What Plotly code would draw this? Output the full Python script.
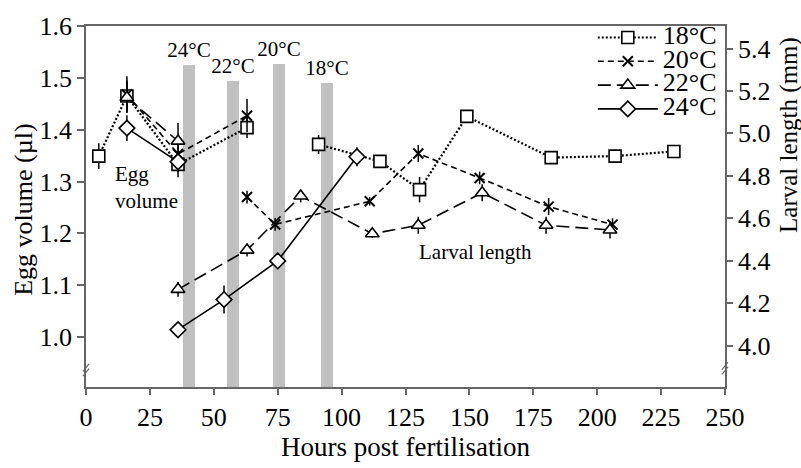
import plotly.graph_objects as go

# ---------------- data ----------------
temps = ["18°C", "20°C", "22°C", "24°C"]

# Egg volume (µl), left axis
egg_h_18 = [5, 16, 36, 63]
egg_v_18 = [1.349, 1.465, 1.333, 1.404]
egg_e_18 = [0.025, 0.03, 0.025, 0.02]

egg_h_20 = [16, 36, 63]
egg_v_20 = [1.468, 1.353, 1.427]
egg_e_20 = [0.035, 0.02, 0.032]

egg_h_22 = [16, 36]
egg_v_22 = [1.462, 1.378]
egg_e_22 = [0.03, 0.035]

egg_h_24 = [16, 36]
egg_v_24 = [1.403, 1.338]
egg_e_24 = [0.025, 0.02]

# Larval length (mm), right axis
lar_h_18 = [91, 115, 130.5, 149, 182, 207, 230]
lar_v_18 = [4.948, 4.868, 4.735, 5.08, 4.886, 4.893, 4.915]
lar_e_18 = [0.045, 0.02, 0.06, 0.03, 0.02, 0.03, 0.02]

lar_h_20 = [63, 74, 111, 130, 154, 181, 206]
lar_v_20 = [4.70, 4.571, 4.68, 4.905, 4.79, 4.655, 4.57]
lar_e_20 = [0.03, 0.03, 0.02, 0.04, 0.03, 0.04, 0.03]

lar_h_22 = [36, 63, 84, 112, 130, 155, 180, 205]
lar_v_22 = [4.265, 4.45, 4.705, 4.527, 4.567, 4.72, 4.567, 4.545]
lar_e_22 = [0.035, 0.03, 0.03, 0.02, 0.04, 0.04, 0.04, 0.04]

lar_h_24 = [36, 54, 75, 106]
lar_v_24 = [4.075, 4.217, 4.399, 4.89]
lar_e_24 = [0.0, 0.066, 0.02, 0.045]

# Grey bars (hatching times), left axis units
bar_h = [40.3, 57.6, 75.5, 94.2]
bar_top = [1.525, 1.493, 1.527, 1.491]
bar_lbl = ["24°C", "22°C", "20°C", "18°C"]

# axes
x_ticks = [0, 25, 50, 75, 100, 125, 150, 175, 200, 225, 250]
y1_ticks = [1.0, 1.1, 1.2, 1.3, 1.4, 1.5, 1.6]
y2_ticks = [4.0, 4.2, 4.4, 4.6, 4.8, 5.0, 5.2, 5.4]

# ---------------- styles ----------------
FONT = "Liberation Serif, Times New Roman, serif"
dashes = ["2px,2px", "6px,4px", "13px,6px", "solid"]
widths = [2.2, 1.6, 1.6, 1.6]
symbols = ["square", "x-thin", "triangle-up", "diamond"]
msizes = [12, 10, 12, 12]

fig = go.Figure()

fig.add_trace(go.Bar(
    x=bar_h, y=bar_top, width=4.6, marker=dict(color="#c0c0c0", line=dict(width=0)),
    text=bar_lbl, textposition="outside", constraintext="none", cliponaxis=False,
    textfont=dict(family=FONT, size=21, color="black"), showlegend=False, yaxis="y",
))

egg = [(egg_h_18, egg_v_18, egg_e_18), (egg_h_20, egg_v_20, egg_e_20),
       (egg_h_22, egg_v_22, egg_e_22), (egg_h_24, egg_v_24, egg_e_24)]
lar = [(lar_h_18, lar_v_18, lar_e_18), (lar_h_20, lar_v_20, lar_e_20),
       (lar_h_22, lar_v_22, lar_e_22), (lar_h_24, lar_v_24, lar_e_24)]


def marker(i):
    if symbols[i] == "x-thin":
        return dict(symbol="x-thin", size=msizes[i], color="black",
                    line=dict(color="black", width=2))
    return dict(symbol=symbols[i], size=msizes[i], color="white",
                line=dict(color="black", width=1.6))


for i, t in enumerate(temps):
    h, v, e = egg[i]
    fig.add_trace(go.Scatter(
        x=h, y=v, mode="lines+markers", yaxis="y", legendgroup=t, showlegend=False,
        line=dict(color="black", width=widths[i], dash=dashes[i]), marker=marker(i),
        error_y=dict(type="data", array=e, color="black", thickness=1.5, width=0),
    ))
for i, t in enumerate(temps):
    h, v, e = lar[i]
    fig.add_trace(go.Scatter(
        x=h, y=v, mode="lines+markers", yaxis="y2", legendgroup=t, showlegend=True,
        name="<span style='font-size:26px'>" + t + "</span>",
        line=dict(color="black", width=widths[i], dash=dashes[i]), marker=marker(i),
        error_y=dict(type="data", array=e, color="black", thickness=1.5, width=0),
    ))

AX = "#666666"
tickfont = dict(family=FONT, size=26, color="black")
fig.update_layout(
    width=801, height=468,
    margin=dict(l=86, r=76, t=16, b=68),
    paper_bgcolor="white", plot_bgcolor="white",
    font=dict(family=FONT, color="black"),
    bargap=0,
    xaxis=dict(range=[0, 250], tickvals=x_ticks, ticks="outside", ticklen=6, tickwidth=1.5,
               tickcolor=AX, showline=True, linecolor=AX, linewidth=1.5, mirror=True,
               showgrid=False, zeroline=False, tickfont=tickfont,
               title=dict(text="Hours post fertilisation", font=dict(family=FONT, size=27),
                          standoff=5)),
    yaxis=dict(range=[0.9036, 1.6], tickvals=y1_ticks, tickformat=".1f", ticks="outside",
               ticklen=7, tickwidth=1.5, tickcolor=AX, showline=True, linecolor=AX,
               linewidth=1.5, showgrid=False, zeroline=False, tickfont=tickfont),
    yaxis2=dict(range=[3.805, 5.506], tickvals=y2_ticks, tickformat=".1f", ticks="outside",
                ticklen=6, tickwidth=1.5, tickcolor=AX, showline=True, linecolor=AX,
                linewidth=1.5, showgrid=False, zeroline=False, tickfont=tickfont,
                overlaying="y", side="right"),
    legend=dict(x=0.995, y=1.015, xanchor="right", yanchor="top", bgcolor="rgba(0,0,0,0)",
                font=dict(family=FONT, size=16, color="black"), itemwidth=60,
                tracegroupgap=0),
    annotations=[
        dict(text="Egg volume (µl)", xref="paper", yref="paper", x=-0.099, y=0.49,
             xanchor="center", yanchor="middle",
             textangle=-90, showarrow=False, font=dict(family=FONT, size=26)),
        dict(text="Larval length (mm)", xref="paper", yref="paper", x=1.100, y=0.698,
             xanchor="center", yanchor="middle",
             textangle=-90, showarrow=False, font=dict(family=FONT, size=25)),
        dict(text="Egg<br>volume", xref="x", yref="y", x=10.6, y=1.289, xanchor="left",
             align="left", showarrow=False, font=dict(family=FONT, size=21)),
        dict(text="Larval length", xref="x", yref="y", x=152.2, y=1.165,
             showarrow=False, font=dict(family=FONT, size=21)),
    ],
)

# axis break marks (//) on both y axes
px = 1 / 639
py = 1 / 384
shapes = []
for xc, yc in [(0.0, 0.047), (1.0, 0.052)]:
    for off in (-2.5, 2.5):
        shapes.append(dict(type="line", xref="paper", yref="paper",
                           x0=xc - 3 * px, y0=yc + (off - 4) * py,
                           x1=xc + 3 * px, y1=yc + (off + 4) * py,
                           line=dict(color=AX, width=1.2)))
fig.update_layout(shapes=shapes)

fig.write_html("out.html")
